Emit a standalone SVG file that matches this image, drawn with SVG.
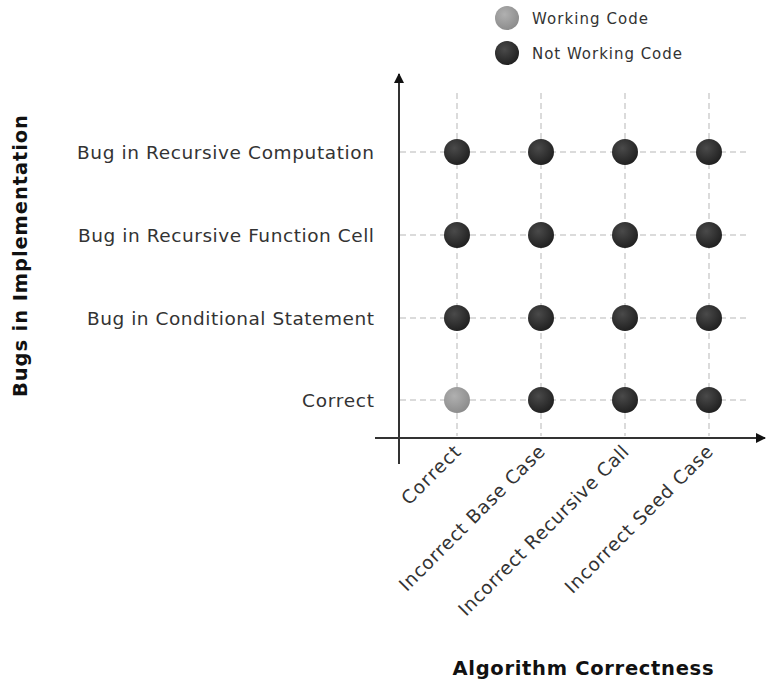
<svg xmlns="http://www.w3.org/2000/svg" width="766" height="681" viewBox="0 0 766 681">
  <defs>
    <radialGradient id="gDark" cx="0.4" cy="0.35" r="0.7">
      <stop offset="0" stop-color="#4a4a4a"/>
      <stop offset="1" stop-color="#1e1e1e"/>
    </radialGradient>
    <radialGradient id="gLight" cx="0.4" cy="0.35" r="0.7">
      <stop offset="0" stop-color="#b0b0b0"/>
      <stop offset="1" stop-color="#8a8a8a"/>
    </radialGradient>
    <marker id="arrow" viewBox="0 0 10 10" refX="9" refY="5" markerWidth="10" markerHeight="10" markerUnits="userSpaceOnUse" orient="auto">
      <path d="M0,0 L10,5 L0,10 z" fill="#111"/>
    </marker>
    <style>
      .grid { stroke: #cfcfcf; stroke-width: 1.5; stroke-dasharray: 6 4; fill: none; }
      .axis { stroke: #333; stroke-width: 2; fill: none; }
      .dark { fill: url(#gDark); }
      .light { fill: url(#gLight); }
      .lbl { font-family: "DejaVu Sans", "Open Sans", sans-serif; font-size: 18.5px; fill: #333; }
      .leg { font-family: "DejaVu Sans", "Open Sans", sans-serif; font-size: 15px; fill: #333; }
      .title { font-family: "DejaVu Sans", "Open Sans", sans-serif; font-size: 19.5px; font-weight: bold; fill: #111; }
    </style>
  </defs>

  <rect width="766" height="681" fill="#fff"/>

  <!-- legend -->
  <g id="legend">
    <circle cx="507" cy="18" r="12" class="light"/>
    <text x="532" y="24" class="leg" textLength="116">Working Code</text>
    <circle cx="507" cy="53" r="12" class="dark"/>
    <text x="532" y="59" class="leg" textLength="150">Not Working Code</text>
  </g>

  <!-- dashed grid -->
  <g id="grid">
    <line class="grid" x1="400" y1="152" x2="746" y2="152"/>
    <line class="grid" x1="400" y1="235" x2="746" y2="235"/>
    <line class="grid" x1="400" y1="318" x2="746" y2="318"/>
    <line class="grid" x1="400" y1="400" x2="746" y2="400"/>
    <line class="grid" x1="457" y1="93" x2="457" y2="436"/>
    <line class="grid" x1="541" y1="93" x2="541" y2="436"/>
    <line class="grid" x1="625" y1="93" x2="625" y2="436"/>
    <line class="grid" x1="709" y1="93" x2="709" y2="436"/>
  </g>

  <!-- axes -->
  <g id="connectors">
    <line class="axis" x1="399" y1="464" x2="399" y2="74" marker-end="url(#arrow)"/>
    <line class="axis" x1="375" y1="438" x2="765" y2="438" marker-end="url(#arrow)"/>
  </g>

  <!-- data points -->
  <g id="points">
    <circle cx="457" cy="152" r="13" class="dark"/>
    <circle cx="541" cy="152" r="13" class="dark"/>
    <circle cx="625" cy="152" r="13" class="dark"/>
    <circle cx="709" cy="152" r="13" class="dark"/>
    <circle cx="457" cy="235" r="13" class="dark"/>
    <circle cx="541" cy="235" r="13" class="dark"/>
    <circle cx="625" cy="235" r="13" class="dark"/>
    <circle cx="709" cy="235" r="13" class="dark"/>
    <circle cx="457" cy="318" r="13" class="dark"/>
    <circle cx="541" cy="318" r="13" class="dark"/>
    <circle cx="625" cy="318" r="13" class="dark"/>
    <circle cx="709" cy="318" r="13" class="dark"/>
    <circle cx="457" cy="400" r="13" class="light"/>
    <circle cx="541" cy="400" r="13" class="dark"/>
    <circle cx="625" cy="400" r="13" class="dark"/>
    <circle cx="709" cy="400" r="13" class="dark"/>
  </g>

  <!-- row labels -->
  <g id="row-labels" text-anchor="end">
    <text x="374" y="159" class="lbl" textLength="297">Bug in Recursive Computation</text>
    <text x="374" y="242" class="lbl" textLength="296">Bug in Recursive Function Cell</text>
    <text x="374" y="325" class="lbl" textLength="287">Bug in Conditional Statement</text>
    <text x="374" y="407" class="lbl" textLength="72">Correct</text>
  </g>

  <!-- column labels -->
  <g id="col-labels" text-anchor="end">
    <text class="lbl" transform="translate(462,453) rotate(-45)" textLength="75">Correct</text>
    <text class="lbl" transform="translate(546,453) rotate(-45)" textLength="197">Incorrect Base Case</text>
    <text class="lbl" transform="translate(630,453) rotate(-45)" textLength="232">Incorrect Recursive Call</text>
    <text class="lbl" transform="translate(714,453) rotate(-45)" textLength="200">Incorrect Seed Case</text>
  </g>

  <!-- axis titles -->
  <g id="axis-titles">
    <text class="title" text-anchor="middle" transform="translate(27,256) rotate(-90)" textLength="282">Bugs in Implementation</text>
    <text class="title" x="583" y="675" text-anchor="middle" textLength="261">Algorithm Correctness</text>
  </g>
</svg>
